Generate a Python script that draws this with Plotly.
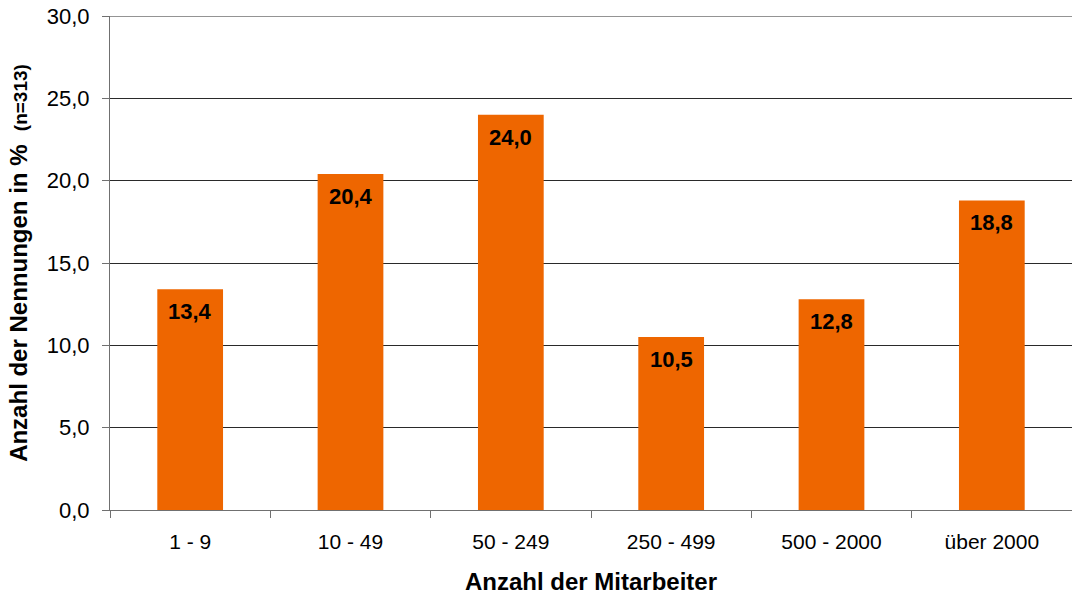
import plotly.graph_objects as go

categories = ["1 - 9", "10 - 49", "50 - 249", "250 - 499", "500 - 2000", "über 2000"]
values = [13.4, 20.4, 24.0, 10.5, 12.8, 18.8]
y_ticks = [0, 5, 10, 15, 20, 25, 30]
y_tick_labels = ["0,0", "5,0", "10,0", "15,0", "20,0", "25,0", "30,0"]

fig = go.Figure()
fig.add_trace(go.Bar(
    x=categories, y=values, marker=dict(color="#EE6600", line=dict(width=0)),
    width=0.41, hoverinfo="skip"))

for c, v in zip(categories, values):
    fig.add_annotation(x=c, y=v, text="<b>" + f"{v:.1f}".replace(".", ",") + "</b>",
                       showarrow=False, yanchor="top", yshift=-8,
                       font=dict(family="Liberation Sans, Arial", size=22, color="black"))

# gridline at the top of the range (plotly omits it at the edge)
fig.add_shape(type="line", xref="paper", x0=0, x1=1, yref="y", y0=y_ticks[-1], y1=y_ticks[-1],
              line=dict(color="#2a2a2a", width=1), layer="below")

fig.update_layout(
    width=1072, height=598,
    margin=dict(l=110, r=0, t=16, b=88),
    paper_bgcolor="white", plot_bgcolor="white",
    showlegend=False,
    font=dict(family="Liberation Sans, Arial", color="black"),
    bargap=0.59,
)
fig.update_xaxes(
    tickson="boundaries", ticks="outside", ticklen=7, tickcolor="#707070",
    showline=True, linecolor="#707070", linewidth=1,
    tickfont=dict(size=21), showgrid=False, ticklabelstandoff=13,
    title=dict(text="<b>Anzahl der Mitarbeiter</b>", font=dict(size=24), standoff=20),
)
fig.update_yaxes(
    range=[0, 30], tickvals=y_ticks, ticktext=y_tick_labels,
    ticks="outside", ticklen=7, tickcolor="#707070",
    showline=True, linecolor="#707070", linewidth=1,
    showgrid=True, gridcolor="#2a2a2a", gridwidth=1,
    tickfont=dict(size=22), zeroline=False, ticklabelstandoff=8,
    ticklabeloverflow="allow",
    title=dict(text="<b>Anzahl der Nennungen in %  <span style='font-size:19px'>(n=313)</span></b>",
               font=dict(size=24), standoff=12),
)
fig.write_html("out.html", config={"displayModeBar": False},
               post_script="document.body.style.margin='0';")
